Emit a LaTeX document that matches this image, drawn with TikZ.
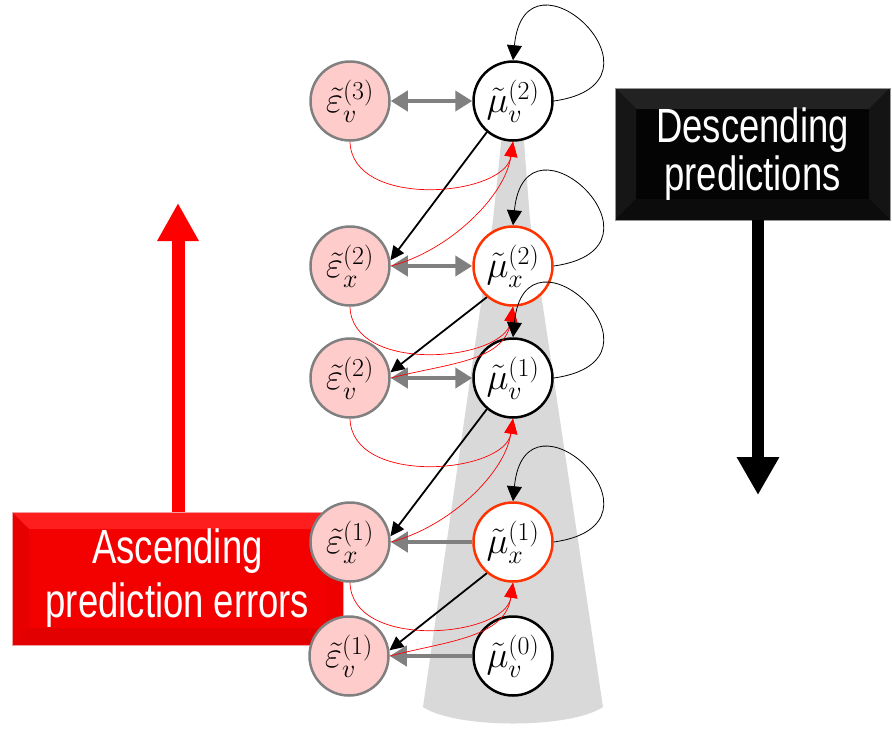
\documentclass[tikz,border=0pt]{standalone}
\usepackage{graphicx}
\usepackage{fontspec}
\newfontfamily\narrowsans[FakeStretch=0.76]{Liberation Sans}
\usetikzlibrary{arrows.meta,calc}

% unit labels: set at 24pt, then enlarged
\newcommand\unitlab[1]{\scalebox{1.5}{$#1$}}

% unit colours
\definecolor{epsfill}{RGB}{255,204,204}
\definecolor{epsline}{RGB}{128,128,128}
\definecolor{hotline}{RGB}{255,51,0}
\definecolor{conegrey}{RGB}{217,217,217}
\definecolor{linkgrey}{RGB}{128,128,128}
% panel colours (face and bevel strips)
\definecolor{ascface}{RGB}{243,0,0}
\definecolor{asctop}{RGB}{255,30,30}
\definecolor{ascleft}{RGB}{230,0,0}
\definecolor{ascright}{RGB}{238,0,0}
\definecolor{ascbottom}{RGB}{226,0,0}
\definecolor{ascrim}{RGB}{240,160,160}
\definecolor{descface}{RGB}{4,4,4}
\definecolor{desctop}{RGB}{34,34,34}
\definecolor{descleft}{RGB}{22,22,22}
\definecolor{descright}{RGB}{20,20,20}
\definecolor{descbottom}{RGB}{12,12,12}
\definecolor{descrim}{RGB}{150,150,150}

\tikzset{
  unit/.style={circle, inner sep=0pt, minimum size=79pt, line width=2.5pt,
    font=\fontsize{24}{28}\selectfont},
  errunit/.style={unit, draw=epsline, fill=epsfill},
  predunit/.style={unit, draw=black, fill=white},
  hotunit/.style={unit, draw=hotline, fill=white},
  exchange/.style={draw=linkgrey, line width=4pt,
    >={Triangle[length=17pt,width=20pt]}, <->},
  inflow/.style={draw=linkgrey, line width=4pt,
    >={Triangle[length=17pt,width=20pt]}, ->},
  descent/.style={draw=black, line width=1.8pt,
    >={Triangle[length=14pt,width=13pt]}, ->},
  feedback/.style={draw=red, line width=0.7pt,
    >={Triangle[length=15pt,width=13pt]}, ->},
  selfloop/.style={draw=black, line width=0.8pt,
    >={Triangle[length=15pt,width=15pt]}, ->},
  panel/.style={rectangle, inner sep=0pt, text=white, align=center},
  bevelled/.style n args={5}{path picture={
    \path (path picture bounding box.north west) coordinate (pnw)
          (path picture bounding box.north east) coordinate (pne)
          (path picture bounding box.south west) coordinate (psw)
          (path picture bounding box.south east) coordinate (pse);
    \fill[#2] (pnw) -- (pne) -- ($(pne)+(-#1,#1)$) -- ($(pnw)+(#1,#1)$) -- cycle;
    \fill[#3] (pnw) -- ($(pnw)+(#1,#1)$) -- ($(psw)+(#1,-#1)$) -- (psw) -- cycle;
    \fill[#4] (pne) -- ($(pne)+(-#1,#1)$) -- ($(pse)+(-#1,-#1)$) -- (pse) -- cycle;
    \fill[#5] (psw) -- ($(psw)+(#1,-#1)$) -- ($(pse)+(-#1,-#1)$) -- (pse) -- cycle;
  }},
}

\begin{document}
\begin{tikzpicture}[x=1pt,y=-1pt]
\useasboundingbox (0,0) rectangle (892,729);

% grey cone behind the prediction units
\fill[conegrey] (504,115) -- (522,115) -- (530,220) -- (603,707)
  .. controls (570,729) and (456,729) .. (423,707) -- (493,220) -- cycle;

% ascending panel with its upward arrow
\node[panel, bevelled={17}{asctop}{ascleft}{ascright}{ascbottom},
  fill=ascface, draw=ascrim, line width=0.6pt,
  minimum width=331pt, minimum height=133pt,
  font=\narrowsans\fontsize{48}{54}\selectfont]
  (asc) at (177.5,578.5) {Ascending\\prediction errors};
\coordinate (asctip) at (178,203);
\draw[red, line width=13pt, -{Triangle[length=38pt,width=39pt]}]
  (asc.north -| asctip) -- (asctip);

% descending panel with its downward arrow
\node[panel, bevelled={21}{desctop}{descleft}{descright}{descbottom},
  fill=descface, draw=descrim, line width=0.6pt,
  minimum width=275pt, minimum height=132pt,
  font=\narrowsans\fontsize{48}{48}\selectfont]
  (desc) at (752.5,154) {Descending\\predictions};
\coordinate (desctip) at (758,495);
\draw[black, line width=12pt, -{Triangle[length=38pt,width=40pt]}]
  (desc.south -| desctip) -- (desctip);

% prediction-error units
\node[errunit] (ev3) at (350,101) {\unitlab{\tilde{\varepsilon}_{v}^{(3)}}};
\node[errunit] (ex2) at (350,266) {\unitlab{\tilde{\varepsilon}_{x}^{(2)}}};
\node[errunit] (ev2) at (350,378) {\unitlab{\tilde{\varepsilon}_{v}^{(2)}}};
\node[errunit] (ex1) at (350,542) {\unitlab{\tilde{\varepsilon}_{x}^{(1)}}};
\node[errunit] (ev1) at (349,656) {\unitlab{\tilde{\varepsilon}_{v}^{(1)}}};

% expectation units
\node[predunit] (mv2) at (513,101) {\unitlab{\tilde{\mu}_{v}^{(2)}}};
\node[hotunit]  (mx2) at (513,266) {\unitlab{\tilde{\mu}_{x}^{(2)}}};
\node[predunit] (mv1) at (513,378) {\unitlab{\tilde{\mu}_{v}^{(1)}}};
\node[hotunit]  (mx1) at (513,542) {\unitlab{\tilde{\mu}_{x}^{(1)}}};
\node[predunit] (mv0) at (513,656) {\unitlab{\tilde{\mu}_{v}^{(0)}}};

% lateral exchanges
\draw[exchange] (ev3) -- (mv2);
\draw[exchange] (ex2) -- (mx2);
\draw[exchange] (ev2) -- (mv1);
\draw[inflow] (mx1) -- (ex1);
\draw[inflow] (mv0) -- (ev1);

% top-down predictions
\foreach \m/\e in {mv2/ex2, mx2/ev2, mv1/ex1, mx1/ev1}
  \draw[descent] (\m.230) -- (\e.8);

% bottom-up prediction errors
\foreach \e/\m/\b in {ev3/mv2/ex2, ex2/mx2/ev2, ev2/mv1/ex1, ex1/mx1/ev1} {
  \draw[feedback] (\e.south) .. controls +(2,68) and +(-8,55) .. (\m.south);
  \draw[feedback] (\b.east) .. controls +(58,-15) and +(-8,55) .. (\m.south);
}

% recurrent self-connections
\foreach \m in {mv2, mx2, mv1, mx1}
  \draw[selfloop] (\m.east) .. controls +(128,-18) and +(12,-125) .. (\m.north);
\end{tikzpicture}
\end{document}
